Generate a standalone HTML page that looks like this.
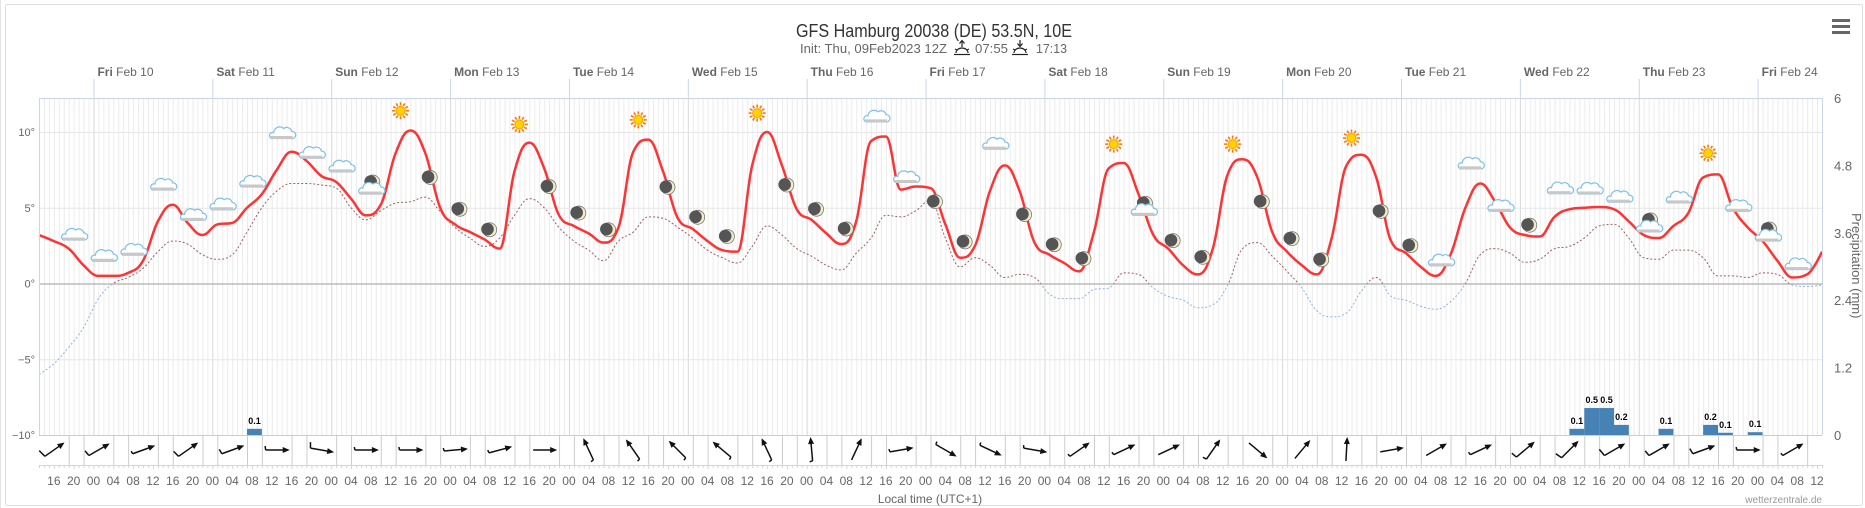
<!DOCTYPE html>
<html><head><meta charset="utf-8"><style>
html,body{margin:0;padding:0;background:#fff;}
svg{display:block;font-family:"Liberation Sans",sans-serif;}
</style></head><body>
<svg id="chart" width="1865" height="508" viewBox="0 0 1865 508" xmlns="http://www.w3.org/2000/svg">
<rect x="5.5" y="4.5" width="1857" height="501" fill="#fff" stroke="#ddd" rx="2"/>
<line x1="0.5" y1="0" x2="0.5" y2="508" stroke="#e4e4e4"/>
<g id="grid"></g>
<g id="wind"></g>
<g id="bars"></g>
<g id="lines"></g>
<g id="icons"></g>
<g id="axes"></g>
<g>
<text x="796" y="37" font-size="18" fill="#333" textLength="276" lengthAdjust="spacingAndGlyphs">GFS Hamburg 20038 (DE) 53.5N, 10E</text>
<text x="800" y="53" font-size="13" fill="#666" textLength="147" lengthAdjust="spacingAndGlyphs">Init: Thu, 09Feb2023 12Z</text>
<g stroke="#222" stroke-width="1.2" fill="none"><line x1="962" y1="41" x2="962" y2="47"/><path d="M959.5,43.5 L962,40.5 L964.5,43.5"/><path d="M956,53 a6,5 0 0 1 12,0"/><line x1="954" y1="54.5" x2="970" y2="54.5"/><line x1="955" y1="49" x2="957" y2="50"/><line x1="969" y1="49" x2="967" y2="50"/></g>
<text x="975" y="53" font-size="13" fill="#666" textLength="33" lengthAdjust="spacingAndGlyphs">07:55</text>
<g stroke="#222" stroke-width="1.2" fill="none"><line x1="1020" y1="40" x2="1020" y2="46"/><path d="M1017.5,43.5 L1020,46.5 L1022.5,43.5"/><path d="M1014,53 a6,5 0 0 1 12,0"/><line x1="1012" y1="54.5" x2="1028" y2="54.5"/><line x1="1013" y1="49" x2="1015" y2="50"/><line x1="1027" y1="49" x2="1025" y2="50"/></g>
<text x="1036" y="53" font-size="13" fill="#666" textLength="31" lengthAdjust="spacingAndGlyphs">17:13</text>
</g>
<g fill="#666"><rect x="1832" y="19" width="18" height="3"/><rect x="1832" y="25" width="18" height="3"/><rect x="1832" y="31" width="18" height="3"/></g>
<text x="930" y="503" font-size="12" fill="#666" text-anchor="middle">Local time (UTC+1)</text>
<text x="1822" y="503" font-size="10" fill="#999" text-anchor="end">wetterzentrale.de</text>
<text transform="translate(1852,213) rotate(90)" font-size="13" fill="#666">Precipitation (mm)</text>
</svg>
<script>
// ---- data ----
const temperature = [3.2,2.8,2.3,1.2,0.5,0.5,0.7,1.5,4.1,5.2,4.0,3.2,3.9,4.0,5.0,5.9,7.5,8.7,8.1,7.1,6.7,5.6,4.5,5.2,8.6,10.1,8.6,5.0,3.9,3.4,2.9,
2.3,7.4,9.3,7.6,4.5,3.8,3.3,2.7,3.7,8.7,9.5,7.4,4.3,3.6,2.8,2.2,2.1,7.8,10.0,7.8,4.9,4.2,3.3,2.6,4.1,9.4,9.7,6.2,6.4,
6.3,3.9,1.7,2.5,6.1,7.8,6.1,2.7,1.9,1.35,0.8,3.4,7.6,7.95,5.9,3.2,2.3,1.2,0.6,2.3,7.2,8.2,7.0,3.4,2.1,1.2,0.6,3.0,7.8,8.5,
7.0,2.8,2.0,1.1,0.5,1.9,5.0,6.6,5.4,3.7,3.2,3.1,4.4,4.9,5.0,5.05,4.9,4.1,3.2,3.0,3.8,4.65,7.0,7.2,5.0,3.7,2.8,1.5,0.4,0.6,2.1];
const dewPoint = [-6.0,-5.3,-4.2,-2.9,-1.0,0.0,0.4,1.0,2.1,2.8,2.6,1.9,1.6,1.9,3.4,5.0,6.1,6.6,6.6,6.5,6.3,5.0,4.2,4.8,5.3,5.4,5.7,4.75,3.7,3.0,2.45,
3.0,4.5,5.6,5.0,3.7,2.8,2.2,1.5,2.8,3.4,4.4,4.3,3.7,3.0,2.2,1.7,1.35,2.45,3.8,3.2,2.3,1.8,1.2,0.9,2.0,3.0,4.5,4.4,4.8,
5.5,3.0,1.1,1.7,1.2,0.4,0.6,0.4,-0.7,-1.0,-1.0,-0.4,-0.3,0.7,0.6,-0.3,-0.85,-1.1,-1.6,-1.4,-0.1,2.3,2.7,1.8,0.8,-0.3,-1.8,-2.2,-1.95,-0.5,
0.4,-0.85,-1.1,-1.5,-1.7,-1.2,0.0,1.9,2.3,2.0,1.4,1.6,2.3,2.45,3.0,3.8,3.9,3.0,1.7,1.6,2.2,2.2,1.7,0.5,0.5,0.4,0.7,0.6,-0.1,-0.2,-0.1];
const seriesStartHour = 13;
const seriesStepHours = 3;
const precipHours = [55,322,325,328,331,340,349,352,358];
const precipValues = [0.11,0.11,0.48,0.48,0.18,0.11,0.18,0.04,0.05];
const precipLabels = ["0.1","0.1","0.5","0.5","0.2","0.1","0.2","0.1","0.1"];
const iconTypes = ["cloud","cloud","cloud","cloud","cloud","cloud","cloud","cloud","cloud","cloud","mooncloud","sun","moon","moon",
"moon","sun","moon","moon","moon","sun","moon","moon","moon","sun","moon","moon","moon","cloud","cloud",
"moon","moon","cloud","moon","moon","moon","sun","mooncloud","moon","moon","sun","moon","moon","moon","sun",
"moon","moon","cloud","cloud","cloud","moon","cloud","cloud","cloud","mooncloud","cloud","sun","cloud","mooncloud","cloud"];
const iconLevels = [3.2,1.8,2.2,6.5,4.5,5.2,6.7,9.9,8.6,7.7,6.3,11.4,7.0,4.9,
3.55,10.5,6.4,4.65,3.55,10.8,6.35,4.37,3.1,11.25,6.5,4.9,3.6,11.0,7.0,
5.4,2.75,9.2,4.55,2.56,1.64,9.2,4.9,2.83,1.73,9.2,5.4,2.96,1.57,9.6,
4.76,2.5,1.5,7.9,5.1,3.85,6.26,6.24,5.7,3.8,5.65,8.6,5.1,3.2,1.25];
const iconStartHour = 20, iconStepHours = 6;
const windAngles = [35,30,20,35,20,0,-10,0,0,5,15,0,115,125,135,140,115,95,65,10,-30,-25,-10,35,25,25,55,-40,50,87,10,30,25,40,45,30,30,20,0,30];
const windBarbs = [8,6,3,7,5,4,6,3,3,3,3,0,3,3,3,3,3,3,0,3,3,3,3,3,3,0,4,0,0,0,0,0,3,6,7,8,6,6,3,3];
const windStartHour = 16, windStepHours = 9;
const tempTicks = [10,5,0,-5,-10];
const tempTickLabels = ["10°","5°","0°","−5°","−10°"];
const precipTicks = [6,4.8,3.6,2.4,1.2,0];
const precipTickLabels = ["6","4.8","3.6","2.4","1.2","0"];
const dayNames = ["Fri","Sat","Sun","Mon","Tue","Wed","Thu","Fri","Sat","Sun","Mon","Tue","Wed","Thu","Fri"];
const dayDates = ["Feb 10","Feb 11","Feb 12","Feb 13","Feb 14","Feb 15","Feb 16","Feb 17","Feb 18","Feb 19","Feb 20","Feb 21","Feb 22","Feb 23","Feb 24"];

// ---- scales ----
const PL=39, PR=1822, PT=98, PB=435, WB=465;
const T0=13, T1=373;
const xs = t => PL + (t - T0) * (PR - PL) / (T1 - T0);
const yT = v => 283.5 - v * 15.15;
const yP = v => PB - v * (PB - PT) / 6;
const NS="http://www.w3.org/2000/svg";
function mk(tag, attrs, parent){const e=document.createElementNS(NS,tag);for(const k in attrs)e.setAttribute(k,attrs[k]);parent.appendChild(e);return e;}

const grid=document.getElementById('grid'), axes=document.getElementById('axes');
for(let t=T0;t<=T1;t++){
  const day=(t%24===0);
  const l=mk('line',{x1:xs(t)+0.5,x2:xs(t)+0.5,y1:PT,y2:PB,stroke:day?'#d8d8d8':'#ececec','stroke-width':1},grid);
  
  
  const tk=mk('line',{x1:xs(t)+0.5,x2:xs(t)+0.5,y1:WB,y2:WB+(t%4===0?4:3),stroke:'#ccd6eb'},axes);
  
  
}
tempTicks.forEach((v,i)=>{
  if(v!==-10){
    const l=mk('line',{x1:PL,x2:PR,y1:yT(v)+0.5,y2:yT(v)+0.5,stroke:v===0?'#bbb':'#e6e6e6','stroke-width':v===0?1.5:1},grid);
    
    
  }
  const tx=mk('text',{x:PL-4,y:yT(v)+4,'font-size':11,fill:'#666','text-anchor':'end'},axes);
  tx.textContent=tempTickLabels[i];
  
  
});
precipTicks.forEach((v,i)=>{
  const tx=mk('text',{x:1834,y:yP(v)+5,'font-size':13,fill:'#666'},axes);
  tx.textContent=precipTickLabels[i];
  
  
});
const b1=mk('path',{d:`M${PL+0.5},${PB} L${PL+0.5},${PT+0.5} L${PR+0.5},${PT+0.5} L${PR+0.5},${PB}`,fill:'none',stroke:'#c8d6e8'},axes);


const b2=mk('line',{x1:PL,x2:PR,y1:PB+0.5,y2:PB+0.5,stroke:'#ccc'},axes);


const b3=mk('line',{x1:PL,x2:PR,y1:WB+0.5,y2:WB+0.5,stroke:'#ccd6eb'},axes);


dayNames.forEach((d,i)=>{
  const t=24*(i+1), x=xs(t);
  const l=mk('line',{x1:x+0.5,x2:x+0.5,y1:79,y2:PT,stroke:'#c8d6e8'},axes);
  
  
  const tx=mk('text',{x:x+4,y:76,'font-size':12,fill:'#666'},axes);
  
  
  const s1=mk('tspan',{'font-weight':'bold'},tx); s1.textContent=d;
  const s2=mk('tspan',{},tx); s2.textContent=' '+dayDates[i];
});
for(let t=16;t<=T1;t+=4){
  const tx=mk('text',{x:xs(t),y:485,'font-size':12,fill:'#666','text-anchor':'middle'},axes);
  tx.textContent=String(t%24).padStart(2,'0');
  
  
}

// ---- wind row ----
const wind=document.getElementById('wind');
windAngles.forEach((a,k)=>{
  const t=windStartHour+k*windStepHours;
  [t+3,t+6].forEach(s=>{ if(s<T1){
    const l=mk('line',{x1:xs(s)+0.5,x2:xs(s)+0.5,y1:PB,y2:WB,stroke:'#ccc'},wind);
    
    
  }});
  const cx=xs(t), cy=450, L=11, r=a*Math.PI/180;
  const dx=Math.cos(r), dy=-Math.sin(r);
  const hx=cx+dx*L, hy=cy+dy*L, tx=cx-dx*L, ty=cy-dy*L;
  const g=mk('g',{},wind);
  
  
  mk('line',{x1:tx,y1:ty,x2:hx,y2:hy,stroke:'#111','stroke-width':1.5},g);
  const px=-dy, py=dx;
  mk('path',{d:`M${hx+dx*2},${hy+dy*2} L${hx-dx*5+px*3},${hy-dy*5+py*3} L${hx-dx*5-px*3},${hy-dy*5-py*3} Z`,fill:'#111'},g);
  const bl=windBarbs[k];
  if(bl>0){
    const fr=(a+100)*Math.PI/180;
    mk('line',{x1:tx,y1:ty,x2:tx+Math.cos(fr)*bl,y2:ty-Math.sin(fr)*bl,stroke:'#111','stroke-width':1.5},g);
  }
});

// ---- precipitation bars ----
const bars=document.getElementById('bars');
precipValues.forEach((v,i)=>{
  const t=precipHours[i], x0=xs(t), x1=xs(t+3);
  const r=mk('rect',{x:x0,y:yP(v),width:x1-x0,height:PB-yP(v),fill:'#4682b4'},bars);
  
  
  const tx=mk('text',{x:(x0+x1)/2,y:yP(v)-5,'font-size':9,'font-weight':'bold',fill:'#000','text-anchor':'middle',stroke:'#fff','stroke-width':2,'paint-order':'stroke'},bars);
  tx.textContent=precipLabels[i];
  
  
});

// ---- lines (Highcharts-style spline) ----
function smoothPath(vals,yf){
  const P=vals.map((v,i)=>[xs(seriesStartHour+i*seriesStepHours),yf(v)]);
  const n=P.length, L=[], R=[];
  for(let i=0;i<n;i++){
    const p=P[i];
    if(i===0||i===n-1){L.push(p.slice());R.push(p.slice());continue;}
    const a=P[i-1], b=P[i+1], s=1.5, den=2.5;
    let lx=(s*p[0]+a[0])/den, ly=(s*p[1]+a[1])/den;
    let rx=(s*p[0]+b[0])/den, ry=(s*p[1]+b[1])/den;
    const corr=((ry-ly)*(rx-p[0]))/(rx-lx)+p[1]-ry;
    ly+=corr; ry+=corr;
    if(ly>a[1]&&ly>p[1]){ly=Math.max(a[1],p[1]);ry=2*p[1]-ly;}
    else if(ly<a[1]&&ly<p[1]){ly=Math.min(a[1],p[1]);ry=2*p[1]-ly;}
    if(ry>b[1]&&ry>p[1]){ry=Math.max(b[1],p[1]);ly=2*p[1]-ry;}
    else if(ry<b[1]&&ry<p[1]){ry=Math.min(b[1],p[1]);ly=2*p[1]-ry;}
    L.push([lx,ly]);R.push([rx,ry]);
  }
  let d=`M${P[0][0]},${P[0][1]}`;
  for(let i=1;i<n;i++){
    d+=` C${R[i-1][0]},${R[i-1][1]} ${L[i][0]},${L[i][1]} ${P[i][0]},${P[i][1]}`;
  }
  return d;
}
const lines=document.getElementById('lines');
const defs=mk('defs',{},lines);
const ca=mk('clipPath',{id:'above'},defs); mk('rect',{x:0,y:0,width:1865,height:yT(0)},ca);
const cb=mk('clipPath',{id:'below'},defs); mk('rect',{x:0,y:yT(0),width:1865,height:300},cb);
const dewD=smoothPath(dewPoint,yT);
const d1=mk('path',{d:dewD,fill:'none',stroke:'#a06060','stroke-width':1,'stroke-dasharray':'2,2','clip-path':'url(#above)'},lines);


const d2=mk('path',{d:dewD,fill:'none',stroke:'#8ab4e0','stroke-width':1,'stroke-dasharray':'2,2','clip-path':'url(#below)'},lines);


const tl=mk('path',{d:smoothPath(temperature,yT),fill:'none',stroke:'#ff3333','stroke-width':2.5,'stroke-linejoin':'round'},lines);



// ---- icons ----
const icons=document.getElementById('icons');
function cloud(g,cx,cy){
  mk('path',{d:`M${cx-11},${cy+5} L${cx+11},${cy+5} a3.5,3.5 0 0 0 -1,-7 a5,5 0 0 0 -8,-3 a6,6 0 0 0 -10,4 a3,3 0 0 0 -2,6 Z`,fill:'#fff',stroke:'#7fc0ea','stroke-width':1.2},g);
  mk('rect',{x:cx-11,y:cy+2.5,width:22,height:3,fill:'#c8c8c8'},g);
}
function moon(g,cx,cy){
  mk('circle',{cx:cx,cy:cy,r:7,fill:'#f2ecc8',stroke:'#777','stroke-width':0.8},g);
  mk('circle',{cx:cx-2.2,cy:cy-0.5,r:6.3,fill:'#555'},g);
}
function sun(g,cx,cy){
  for(let k=0;k<12;k++){const r=k*Math.PI/6;
    mk('line',{x1:cx+Math.cos(r)*5.5,y1:cy+Math.sin(r)*5.5,x2:cx+Math.cos(r)*8.5,y2:cy+Math.sin(r)*8.5,stroke:'#ff7700','stroke-width':1.6},g);}
  mk('circle',{cx:cx,cy:cy,r:4.5,fill:'#ffd400',stroke:'#ff9900','stroke-width':1},g);
}
iconTypes.forEach((type,i)=>{
  const t=iconStartHour+i*iconStepHours, x=xs(t), y=yT(iconLevels[i]);
  const g=mk('g',{},icons);
  
  
  if(type==='cloud') cloud(g,x,y);
  else if(type==='moon') moon(g,x,y);
  else if(type==='sun') sun(g,x,y);
  else { moon(g,x+2,y-6); cloud(g,x,y+1); }
});
</script>
</body></html>
